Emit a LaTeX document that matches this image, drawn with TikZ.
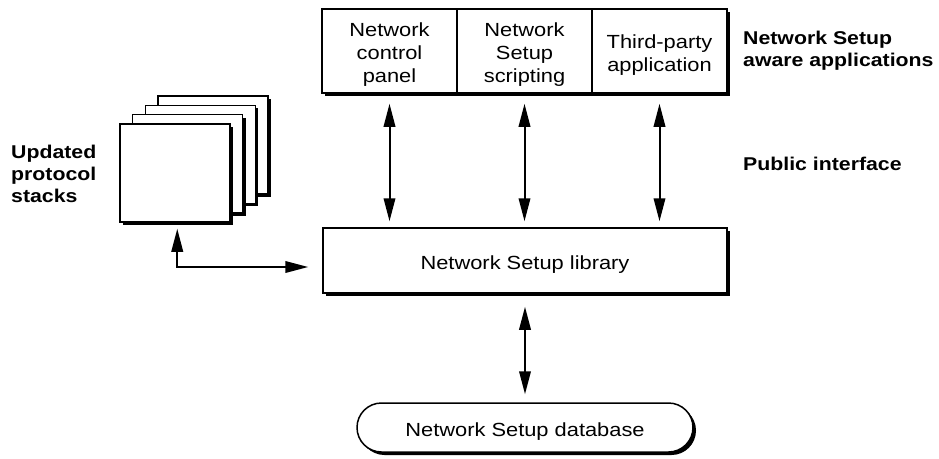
\documentclass[tikz,border=0pt]{standalone}
\usepackage{fontspec}
\setmainfont[FakeStretch=1.15]{Liberation Sans}
\usetikzlibrary{arrows.meta,shadows,shapes.misc,calc}
\newcommand\lowtxt[1]{\raisebox{-4pt}[\height][\depth]{\begin{tabular}{@{}c@{}}#1\end{tabular}}}
\begin{document}
\begin{tikzpicture}[x=1pt,y=-1pt,
  shad/.style={drop shadow={shadow xshift=3pt,shadow yshift=-3pt,fill=black,opacity=1}},
  box/.style={draw,line width=1.5pt,fill=white,shad,inner sep=0pt,font=\fontsize{19}{23}\selectfont},
  cell/.style={box,minimum width=135pt,minimum height=84pt},
  page/.style={box,minimum width=110pt,minimum height=98pt},
  lbl/.style={font=\fontsize{18.5}{22}\selectfont\bfseries,align=left,anchor=west,inner sep=0pt},
  arr/.style={line width=2pt,{Triangle[length=23pt,width=11.5pt]}-{Triangle[length=23pt,width=11.5pt]}},
]
\useasboundingbox (0,0) rectangle (939,458);
% stacked pages
\node[page] (p4) at (213,145) {};
\node[page] (p3) at (200.3,154.3) {};
\node[page] (p2) at (187.7,163.7) {};
\node[page] (p1) at (175,173) {};
% application cells
\node[cell] (c1) at (389.5,51) {\lowtxt{Network\\control\\panel}};
\node[cell] (c2) at (524.5,51) {\lowtxt{Network\\Setup\\scripting}};
\node[cell] (c3) at (659.5,51) {\lowtxt{Third-party\\application}};
% library
\node[box,minimum width=404pt,minimum height=65pt] (lib) at (525,260.5) {\lowtxt{Network Setup library}};
% database
\node[box,rounded rectangle,minimum width=336pt,minimum height=49pt] (db) at (525,427.5) {\lowtxt{Network Setup database}};
% labels
\node[lbl] (l1) at (743,51) {Network Setup\\aware applications};
\node[lbl] (l2) at (743,164) {Public interface};
\node[lbl] (l3) at (11,174) {Updated\\protocol\\stacks};
% arrows
\foreach \c in {c1,c2,c3}
  \draw[arr] ($(\c.south)+(0,10)$) -- ($(\c.south |- lib.north)+(0,-6)$);
\draw[arr] ($(lib.south)+(0,13)$) -- ($(db.north)+(0,-8)$);
\draw[arr] ($(p1.south west)+(58,6)$) |- ($(lib.west)+(-14,6.5)$);
\end{tikzpicture}
\end{document}
